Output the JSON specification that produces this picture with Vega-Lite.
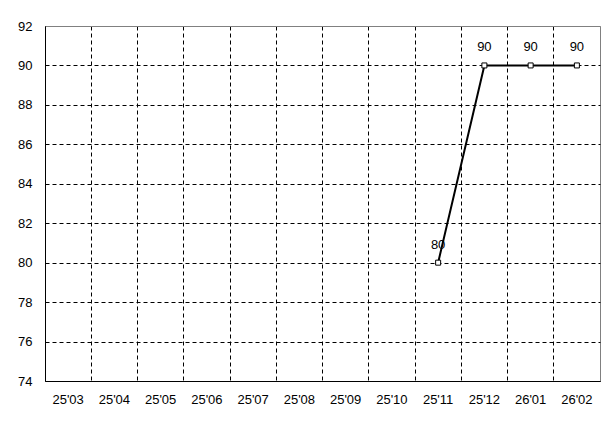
{
  "$schema": "https://vega.github.io/schema/vega-lite/v6.json",
  "width": 555,
  "height": 355,
  "autosize": {"type": "none"},
  "padding": {"left": 45, "top": 26, "right": 15, "bottom": 43},
  "background": "white",
  "config": {
    "font": "Liberation Sans",
    "view": {"stroke": "#808080", "strokeWidth": 1},
    "axis": {"labelFont": "Liberation Sans", "labelFontSize": 13, "labelColor": "black", "ticks": false, "domainColor": "black", "domainWidth": 1, "title": null}
  },
  "data": {
    "values": [
      {"month": "25'11", "value": 80},
      {"month": "25'12", "value": 90},
      {"month": "26'01", "value": 90},
      {"month": "26'02", "value": 90}
    ]
  },
  "encoding": {
    "x": {
      "field": "month",
      "type": "ordinal",
      "sort": null,
      "scale": {"type": "band", "paddingInner": 0, "paddingOuter": 0,
        "domain": ["25'03","25'04","25'05","25'06","25'07","25'08","25'09","25'10","25'11","25'12","26'01","26'02"]},
      "axis": {"labelAngle": 0, "labelPadding": 12, "grid": true, "bandPosition": 0, "gridColor": "black", "gridDash": [4, 3], "gridWidth": 1}
    },
    "y": {
      "field": "value",
      "type": "quantitative",
      "scale": {"domain": [74, 92], "nice": false, "zero": false},
      "axis": {"values": [74, 76, 78, 80, 82, 84, 86, 88, 90, 92], "labelPadding": 13, "grid": true,
        "gridColor": {"condition": {"test": "datum.value == 92", "value": "#808080"}, "value": "black"},
        "gridDash": {"condition": {"test": "datum.value == 92", "value": []}, "value": [4, 3]},
        "gridWidth": 1}
    }
  },
  "layer": [
    {"mark": {"type": "line", "color": "black", "strokeWidth": 2}},
    {"mark": {"type": "point", "shape": "square", "size": 25, "filled": false, "fill": "white", "fillOpacity": 1, "stroke": "black", "strokeWidth": 1, "opacity": 1}},
    {"mark": {"type": "text", "dy": -18, "fontSize": 13, "color": "black", "font": "Liberation Sans"},
     "encoding": {"text": {"field": "value", "type": "quantitative"}}}
  ]
}
